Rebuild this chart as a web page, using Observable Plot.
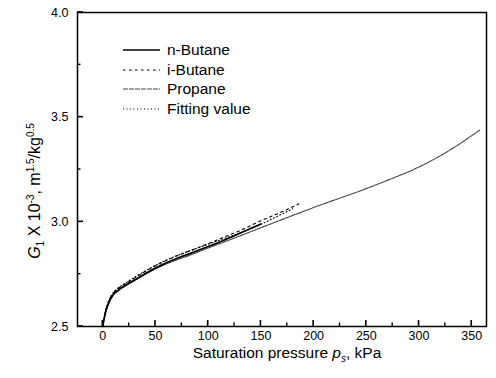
<!DOCTYPE html>
<html>
<head>
<meta charset="utf-8">
<script src="https://cdn.jsdelivr.net/npm/d3@7"></script>
<script src="https://cdn.jsdelivr.net/npm/@observablehq/plot@0.6"></script>
<style>
  html, body { margin: 0; padding: 0; background: #fff; }
  #wrap { position: relative; width: 496px; height: 378px; font-family: "Liberation Sans", Arial, sans-serif; }
  #legend { position: absolute; left: 123px; top: 40px; font-size: 15.5px; line-height: 19.7px; color: #000; }
  #legend .row { display: flex; align-items: center; height: 19.7px; }
  #legend svg { width: 37px; height: 10px; margin-right: 7px; }
</style>
</head>
<body>
<div id="wrap"></div>
<script>
// ---- data ----
const seriesNames = ["n-Butane", "i-Butane", "Propane", "Fitting value"];

const nButaneP = [0, 1, 3, 6, 10, 15, 20, 30, 40, 55, 70, 85, 100, 115, 130, 150];
const nButaneG = [2.5, 2.53, 2.575, 2.618, 2.653, 2.675, 2.692, 2.722, 2.752, 2.792, 2.825, 2.853, 2.882, 2.912, 2.945, 2.99];

const iButaneP = [0, 1, 3, 6, 10, 15, 20, 30, 40, 55, 70, 85, 100, 115, 130, 150, 170, 186];
const iButaneG = [2.5, 2.533, 2.58, 2.625, 2.66, 2.683, 2.7, 2.731, 2.762, 2.803, 2.837, 2.866, 2.896, 2.927, 2.958, 3.005, 3.048, 3.086];

const propaneP = [0, 1, 3, 6, 10, 15, 20, 30, 40, 55, 70, 85, 100, 120, 150, 180, 210, 240, 270, 300, 330, 358];
const propaneG = [2.5, 2.528, 2.572, 2.615, 2.65, 2.672, 2.689, 2.719, 2.748, 2.787, 2.818, 2.845, 2.875, 2.913, 2.972, 3.03, 3.087, 3.14, 3.198, 3.262, 3.345, 3.44];

const fitP = [0, 1, 3, 6, 10, 15, 20, 30, 40, 55, 70, 85, 100, 115, 130, 150, 165, 180];
const fitG = [2.5, 2.535, 2.582, 2.627, 2.663, 2.686, 2.703, 2.735, 2.765, 2.805, 2.838, 2.866, 2.893, 2.92, 2.947, 2.988, 3.025, 3.062];

const xMajor = [0, 50, 100, 150, 200, 250, 300, 350];
const xMinor = [25, 75, 125, 175, 225, 275, 325];
const yMajor = [2.5, 3.0, 3.5, 4.0];
const yMinor = [2.75, 3.25, 3.75];

const xDomain = [-24, 364];
const yDomain = [2.5, 4.0];

// ---- build tables ----
const zip = (P, G) => P.map((p, i) => ({p, g: G[i]}));
const nBut = zip(nButaneP, nButaneG);
const iBut = zip(iButaneP, iButaneG);
const prop = zip(propaneP, propaneG);
const fit = zip(fitP, fitG);

const styles = [
  {stroke: "#000", strokeWidth: 1.7, strokeDasharray: null},
  {stroke: "#000", strokeWidth: 1.1, strokeDasharray: "2.5,3.5"},
  {stroke: "#444", strokeWidth: 1.1, strokeDasharray: "5,1"},
  {stroke: "#000", strokeWidth: 1.1, strokeDasharray: "1,2.5"}
];

const W = 496, H = 378, ML = 77, MR = 10, MT = 12, MB = 52;

const chart = Plot.plot({
  width: W,
  height: H,
  marginLeft: ML,
  marginRight: MR,
  marginTop: MT,
  marginBottom: MB,
  x: {domain: xDomain},
  y: {domain: yDomain},
  style: {fontFamily: "'Liberation Sans', Arial, sans-serif", fontSize: "12px", color: "#000", background: "#fff"},
  marks: [
    Plot.line(prop, {x: "p", y: "g", curve: "monotone-x", ...styles[2]}),
    Plot.line(nBut, {x: "p", y: "g", curve: "monotone-x", ...styles[0]}),
    Plot.line(iBut, {x: "p", y: "g", curve: "monotone-x", ...styles[1]}),
    Plot.line(fit, {x: "p", y: "g", curve: "monotone-x", ...styles[3]}),
    Plot.frame({stroke: "#000", strokeWidth: 1.5}),
    Plot.axisX({ticks: xMajor, tickSize: 0, tickPadding: 5, label: null, fontSize: 12.5}),
    Plot.axisY({ticks: yMajor, tickSize: 0, tickPadding: 9, label: null, tickFormat: d3.format(".1f"), fontSize: 12.5})
  ]
});

const wrap = document.getElementById("wrap");
wrap.appendChild(chart);

// inward ticks positioned through the plot's own scales
const svg = d3.select(chart);
const sx = chart.scale("x"), sy = chart.scale("y");
const y0 = sy.apply(yDomain[0]);
const x0 = sx.apply(xDomain[0]);
const tg = svg.append("g").attr("stroke", "#000");
xMajor.forEach(v => tg.append("line").attr("x1", sx.apply(v)).attr("x2", sx.apply(v)).attr("y1", y0).attr("y2", y0 - 6).attr("stroke-width", 1.6));
xMinor.forEach(v => tg.append("line").attr("x1", sx.apply(v)).attr("x2", sx.apply(v)).attr("y1", y0).attr("y2", y0 - 3.5).attr("stroke-width", 1.4));
yMajor.forEach(v => tg.append("line").attr("y1", sy.apply(v)).attr("y2", sy.apply(v)).attr("x1", x0).attr("x2", x0 + 6).attr("stroke-width", 1.6));
yMinor.forEach(v => tg.append("line").attr("y1", sy.apply(v)).attr("y2", sy.apply(v)).attr("x1", x0).attr("x2", x0 + 3.5).attr("stroke-width", 1.4));

// axis titles with sub/superscripts
const yl = svg.append("text")
  .attr("transform", "translate(40,191) rotate(-90)")
  .attr("text-anchor", "middle")
  .attr("font-size", 16)
  .attr("fill", "#000");
yl.append("tspan").attr("font-style", "italic").text("G");
yl.append("tspan").attr("font-size", 10).attr("dy", 4).text("1");
yl.append("tspan").attr("dy", -4).text(" X 10");
yl.append("tspan").attr("font-size", 10).attr("dy", -6).text("-3");
yl.append("tspan").attr("dy", 6).text(", m");
yl.append("tspan").attr("font-size", 10).attr("dy", -6).text("1.5");
yl.append("tspan").attr("dy", 6).text("/kg");
yl.append("tspan").attr("font-size", 10).attr("dy", -6).text("0.5");

const xl = svg.append("text")
  .attr("x", 287)
  .attr("y", 358)
  .attr("text-anchor", "middle")
  .attr("font-size", 15.5)
  .attr("fill", "#000");
xl.append("tspan").text("Saturation pressure ");
xl.append("tspan").attr("font-style", "italic").text("p");
xl.append("tspan").attr("font-size", 10).attr("font-style", "italic").attr("dy", 4).text("s");
xl.append("tspan").attr("dy", -4).text(", kPa");

// legend
const legend = document.createElement("div");
legend.id = "legend";
seriesNames.forEach((name, i) => {
  const row = document.createElement("div");
  row.className = "row";
  const s = styles[i];
  row.innerHTML = `<svg viewBox="0 0 37 10"><line x1="0" x2="37" y1="5" y2="5" stroke="${s.stroke}" stroke-width="${s.strokeWidth}" ${s.strokeDasharray ? `stroke-dasharray="${s.strokeDasharray}"` : ""}/></svg><span>${name}</span>`;
  legend.appendChild(row);
});
wrap.appendChild(legend);
</script>
</body>
</html>
